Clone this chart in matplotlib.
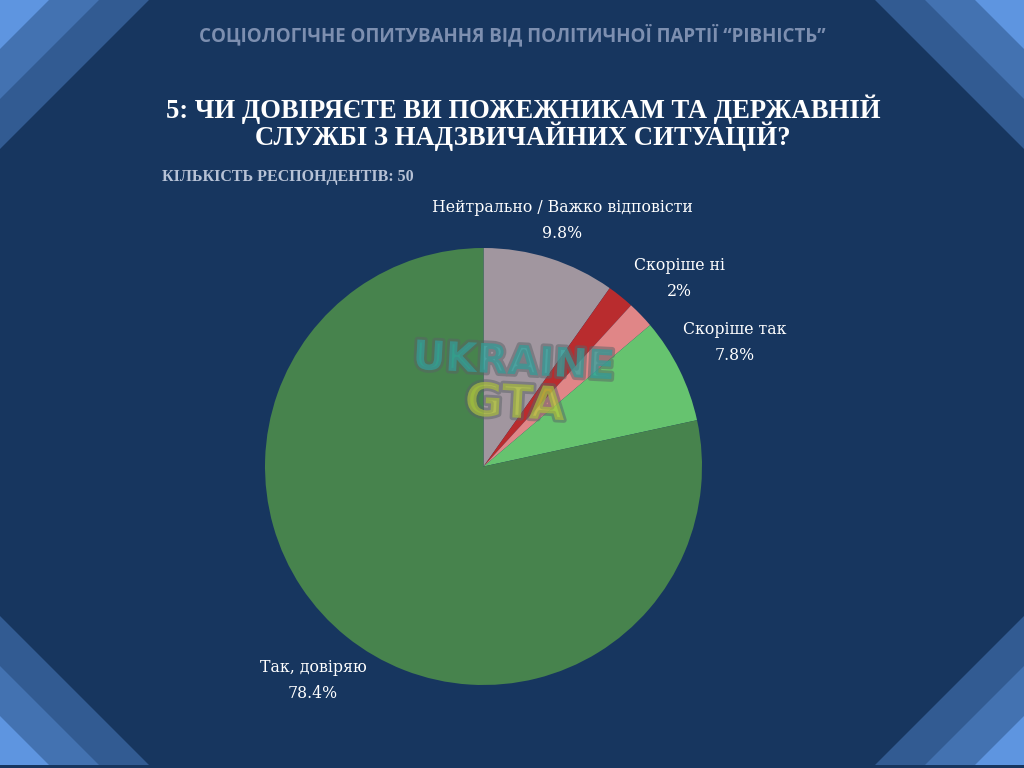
import matplotlib
matplotlib.use('Agg')
import matplotlib.pyplot as plt
import matplotlib.patheffects as pe
from matplotlib.patches import Polygon

labels = ['Нейтрально / Важко відповісти', 'Скоріше ні', '', 'Скоріше так', 'Так, довіряю']
values = [9.8, 2, 2, 7.8, 78.4]
percents = ['9.8%', '2%', '', '7.8%', '78.4%']
colors = ['#a1969f', '#b92c2e', '#e08687', '#66c36f', '#47834d']

title_top = 'СОЦІОЛОГІЧНЕ ОПИТУВАННЯ ВІД ПОЛІТИЧНОЇ ПАРТІЇ “РІВНІСТЬ”'
title = '5: ЧИ ДОВІРЯЄТЕ ВИ ПОЖЕЖНИКАМ ТА ДЕРЖАВНІЙ\nСЛУЖБІ З НАДЗВИЧАЙНИХ СИТУАЦІЙ?'
subtitle = 'КІЛЬКІСТЬ РЕСПОНДЕНТІВ: 50'

W, H = 1024, 768
bg = '#17365f'

fig = plt.figure(figsize=(W / 100, H / 100), dpi=100, facecolor=bg)
ax = fig.add_axes([0, 0, 1, 1])
ax.set_xlim(0, W)
ax.set_ylim(0, H)
ax.axis('off')

# corner stripes, biggest triangle first
for size, c in [(149, '#325b92'), (99, '#4372b1'), (49, '#5e95e0')]:
    ax.add_patch(Polygon([(0, H), (size, H), (0, H - size)], color=c, lw=0))
    ax.add_patch(Polygon([(W, H), (W - size, H), (W, H - size)], color=c, lw=0))
    ax.add_patch(Polygon([(0, 3), (size, 3), (0, 3 + size)], color=c, lw=0))
    ax.add_patch(Polygon([(W, 3), (W - size, 3), (W, 3 + size)], color=c, lw=0))

# pie
ax.pie(values, colors=colors, startangle=90, counterclock=False,
       center=(483.5, H - 466.5), radius=218.5, frame=True,
       wedgeprops={'linewidth': 0})
ax.set_xlim(0, W)
ax.set_ylim(0, H)
ax.set_aspect('auto')
ax.axis('off')

serif = ['Liberation Serif', 'DejaVu Serif']

ax.text(512.5, H - 35, title_top, ha='center', va='center', color='#7d8fb0',
        fontsize=13.5, fontweight='bold', family=['Open Sans', 'DejaVu Sans'])
ax.text(523, H - 123, title, ha='center', va='center', color='white', fontsize=19.2,
        fontweight='bold', family=serif, linespacing=0.9)
ax.text(162, H - 177, subtitle, ha='left', va='center', color='#b7c2d6', fontsize=11.5,
        fontweight='bold', family=serif)

# slice labels
label_pos = [(562, 208), (679, 266), None, (735, 330), (313, 668)]
pct_pos = [(562, 234), (679, 291), None, (735, 355), (313, 693)]
for lab, pct, lp, pp in zip(labels, percents, label_pos, pct_pos):
    if lp is None:
        continue
    ax.text(lp[0], H - lp[1], lab, ha='center', va='center', color='white', fontsize=11.3, family='DejaVu Serif')
    ax.text(pp[0], H - pp[1], pct, ha='center', va='center', color='white', fontsize=11.3, family='DejaVu Serif')

# watermark
outline = [pe.withStroke(linewidth=4, foreground='#5a6266')]
ax.text(514, H - 363, 'UKRAINE', ha='center', va='center', rotation=-3, color='#2fa6a0',
        fontsize=29, fontweight='bold', family='DejaVu Sans', alpha=0.5, path_effects=outline)
ax.text(515, H - 405, 'GTA', ha='center', va='center', rotation=-3, color='#b5c93c',
        fontsize=33, fontweight='bold', family='DejaVu Sans', alpha=0.5, path_effects=outline)

fig.savefig('out.png', dpi=100, facecolor=bg)
